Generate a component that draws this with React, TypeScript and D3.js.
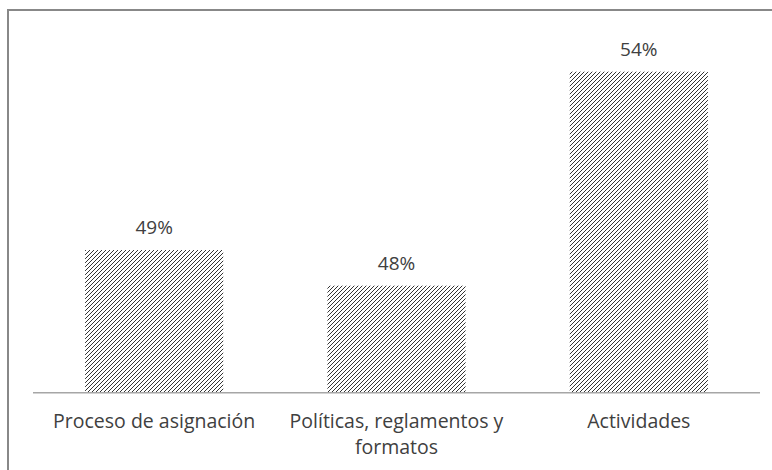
import React from "react";
import * as d3 from "d3";

const categories: string[][] = [
  ["Proceso de asignación"],
  ["Políticas, reglamentos y", "formatos"],
  ["Actividades"],
];
const values: number[] = [49, 48, 54];
const valueLabels: string[] = ["49%", "48%", "54%"];
const yDomain: [number, number] = [45, 55];

const W = 772;
const H = 470;
const FONT = "'Open Sans', sans-serif";
const TEXT = "#404040";

export default function App() {
  const x = d3
    .scaleBand<number>()
    .domain(d3.range(values.length))
    .range([33, 760])
    .paddingInner(0.43)
    .paddingOuter(0.215);
  const y = d3.scaleLinear().domain(yDomain).range([392.7, 36]);
  const base = y(yDomain[0]);

  return (
    <svg
      width={W}
      height={H}
      style={{ position: "absolute", left: 0, top: 0, background: "#fff" }}
    >
      <defs>
        <pattern
          id="hatch"
          patternUnits="userSpaceOnUse"
          width={4}
          height={4}
        >
          <rect width={4} height={4} fill="#fff" />
          <path
            d="M-1,1 l2,-2 M0,4 l4,-4 M3,5 l2,-2"
            stroke="#333"
            strokeWidth={1}
          />
        </pattern>
      </defs>
      <rect x={8} y={10} width={900} height={600} fill="none" stroke="#888" strokeWidth={2} />
      {values.map((v, i) => (
        <g key={i}>
          <rect
            x={x(i)}
            y={y(v)}
            width={x.bandwidth()}
            height={base - y(v)}
            fill="url(#hatch)"
          />
          <text
            x={(x(i) as number) + x.bandwidth() / 2}
            y={y(v) - 16}
            textAnchor="middle"
            fontFamily={FONT}
            fontSize={19}
            fill={TEXT}
          >
            {valueLabels[i]}
          </text>
          {categories[i].map((line, j) => (
            <text
              key={j}
              x={(x(i) as number) + x.bandwidth() / 2}
              y={428 + j * 26}
              textAnchor="middle"
              fontFamily={FONT}
              fontSize={19.5}
              fill={TEXT}
            >
              {line}
            </text>
          ))}
        </g>
      ))}
      <line x1={33} x2={760} y1={base} y2={base} stroke="#a6a6a6" strokeWidth={1.5} />
    </svg>
  );
}
